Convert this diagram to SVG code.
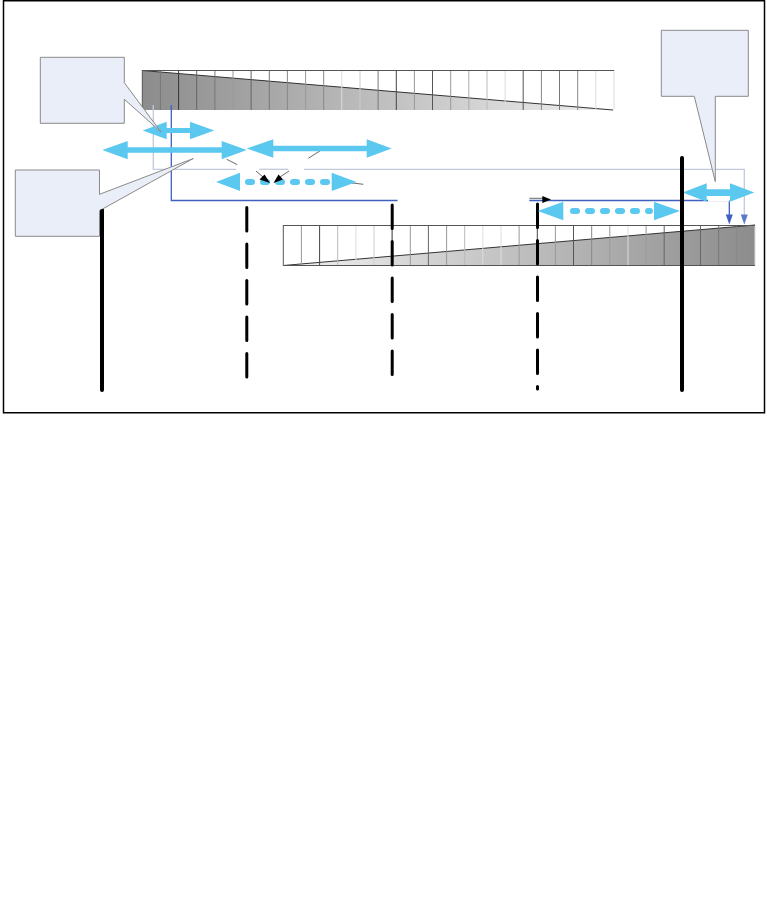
<svg xmlns="http://www.w3.org/2000/svg" width="767" height="921" viewBox="0 0 767 921">
<defs>
<style>
.frame{fill:#fff;stroke:#000;stroke-width:1.5}
.callout{fill:#eaeef8;stroke:#8a8a8a;stroke-width:1}
.blk{fill:none;stroke:#000;stroke-width:4;stroke-linecap:round}
.dash{fill:none;stroke:#000;stroke-width:3;stroke-linecap:round;stroke-dasharray:23.5 13}
.arr{fill:#5bc8f0}
.dots{fill:none;stroke:#5bc8f0;stroke-width:6;stroke-linecap:round;stroke-dasharray:4 11}
.blue{fill:none;stroke:#4060c0;stroke-width:1.3}
.light{fill:none;stroke:#c2c9da;stroke-width:1.3}
.thin{fill:none;stroke:#444;stroke-width:0.8}
</style>
<linearGradient id="gTop" x1="142" y1="0" x2="613" y2="0" gradientUnits="userSpaceOnUse">
<stop offset="0" stop-color="#8c8c8c"/><stop offset="1" stop-color="#f0f0f0"/>
</linearGradient>
<linearGradient id="gBot" x1="284" y1="0" x2="755" y2="0" gradientUnits="userSpaceOnUse">
<stop offset="0" stop-color="#f2f2f2"/><stop offset="1" stop-color="#8c8c8c"/>
</linearGradient>
</defs>
<rect class="frame" x="3.5" y="0.75" width="761" height="412"/>

<g id="bar-top">
<polygon points="142.3,70.5 613,110 142.3,110" fill="url(#gTop)"/>
<line x1="142.3" y1="70.5" x2="613" y2="110" stroke="#333" stroke-width="1"/>
<g stroke-width="1">
<line x1="142.3" y1="70" x2="142.3" y2="110" stroke="#555"/>
<line x1="160.4" y1="70" x2="160.4" y2="110" stroke="#777"/>
<line x1="178.6" y1="70" x2="178.6" y2="110" stroke="#333"/>
<line x1="196.7" y1="70" x2="196.7" y2="110" stroke="#666"/>
<line x1="214.9" y1="70" x2="214.9" y2="110" stroke="#777"/>
<line x1="233.0" y1="70" x2="233.0" y2="110" stroke="#999"/>
<line x1="251.1" y1="70" x2="251.1" y2="110" stroke="#666"/>
<line x1="269.3" y1="70" x2="269.3" y2="110" stroke="#777"/>
<line x1="287.4" y1="70" x2="287.4" y2="110" stroke="#888"/>
<line x1="305.6" y1="70" x2="305.6" y2="110" stroke="#999"/>
<line x1="323.7" y1="70" x2="323.7" y2="110" stroke="#888"/>
<line x1="341.8" y1="70" x2="341.8" y2="110" stroke="#ddd"/>
<line x1="360.0" y1="70" x2="360.0" y2="110" stroke="#ccc"/>
<line x1="378.1" y1="70" x2="378.1" y2="110" stroke="#777"/>
<line x1="396.3" y1="70" x2="396.3" y2="110" stroke="#444"/>
<line x1="414.4" y1="70" x2="414.4" y2="110" stroke="#999"/>
<line x1="432.5" y1="70" x2="432.5" y2="110" stroke="#555"/>
<line x1="450.7" y1="70" x2="450.7" y2="110" stroke="#999"/>
<line x1="468.8" y1="70" x2="468.8" y2="110" stroke="#aaa"/>
<line x1="487.0" y1="70" x2="487.0" y2="110" stroke="#bbb"/>
<line x1="505.1" y1="70" x2="505.1" y2="110" stroke="#ddd"/>
<line x1="523.2" y1="70" x2="523.2" y2="110" stroke="#555"/>
<line x1="541.4" y1="70" x2="541.4" y2="110" stroke="#888"/>
<line x1="559.5" y1="70" x2="559.5" y2="110" stroke="#777"/>
<line x1="577.7" y1="70" x2="577.7" y2="110" stroke="#888"/>
<line x1="595.8" y1="70" x2="595.8" y2="110" stroke="#ddd"/>
<line x1="614.0" y1="70" x2="614.0" y2="110" stroke="#ddd"/>
</g>
<line x1="142.3" y1="70.5" x2="614" y2="70.5" stroke="#555" stroke-width="1"/>
</g>

<g id="bar-bottom">
<polygon points="283.3,265.5 755,225 755,265.5" fill="url(#gBot)"/>
<line x1="283.3" y1="265.5" x2="755" y2="225" stroke="#333" stroke-width="1"/>
<g stroke-width="1">
<line x1="283.3" y1="225" x2="283.3" y2="265.5" stroke="#555"/>
<line x1="301.4" y1="225" x2="301.4" y2="265.5" stroke="#999"/>
<line x1="319.6" y1="225" x2="319.6" y2="265.5" stroke="#444"/>
<line x1="337.7" y1="225" x2="337.7" y2="265.5" stroke="#bbb"/>
<line x1="355.9" y1="225" x2="355.9" y2="265.5" stroke="#ddd"/>
<line x1="374.0" y1="225" x2="374.0" y2="265.5" stroke="#ccc"/>
<line x1="392.1" y1="225" x2="392.1" y2="265.5" stroke="#333"/>
<line x1="410.3" y1="225" x2="410.3" y2="265.5" stroke="#999"/>
<line x1="428.4" y1="225" x2="428.4" y2="265.5" stroke="#666"/>
<line x1="446.6" y1="225" x2="446.6" y2="265.5" stroke="#999"/>
<line x1="464.7" y1="225" x2="464.7" y2="265.5" stroke="#bbb"/>
<line x1="482.8" y1="225" x2="482.8" y2="265.5" stroke="#ddd"/>
<line x1="501.0" y1="225" x2="501.0" y2="265.5" stroke="#ddd"/>
<line x1="519.1" y1="225" x2="519.1" y2="265.5" stroke="#999"/>
<line x1="537.3" y1="225" x2="537.3" y2="265.5" stroke="#444"/>
<line x1="555.4" y1="225" x2="555.4" y2="265.5" stroke="#999"/>
<line x1="573.5" y1="225" x2="573.5" y2="265.5" stroke="#555"/>
<line x1="591.7" y1="225" x2="591.7" y2="265.5" stroke="#888"/>
<line x1="609.8" y1="225" x2="609.8" y2="265.5" stroke="#999"/>
<line x1="628.0" y1="225" x2="628.0" y2="265.5" stroke="#ddd"/>
<line x1="646.1" y1="225" x2="646.1" y2="265.5" stroke="#999"/>
<line x1="664.2" y1="225" x2="664.2" y2="265.5" stroke="#666"/>
<line x1="682.4" y1="225" x2="682.4" y2="265.5" stroke="#555"/>
<line x1="700.5" y1="225" x2="700.5" y2="265.5" stroke="#666"/>
<line x1="718.7" y1="225" x2="718.7" y2="265.5" stroke="#777"/>
<line x1="736.8" y1="225" x2="736.8" y2="265.5" stroke="#888"/>
<line x1="755.0" y1="225" x2="755.0" y2="265.5" stroke="#ddd"/>
</g>
<line x1="283.3" y1="225.5" x2="755" y2="225.5" stroke="#555" stroke-width="1"/>
<line x1="283.3" y1="265.5" x2="755" y2="265.5" stroke="#555" stroke-width="1"/>
</g>

<g id="connectors">
<path class="light" d="M153.3,105 V169.3 H236"/>
<path class="light" d="M259.3,169.3 H288.3"/>
<path class="light" d="M304,169.3 H744.3 V215"/>
<polygon points="740.8,214.5 747.8,214.5 744.3,224.5" fill="#5a78cc"/>
<path class="blue" d="M171.3,105 V200.5 H397.5"/>
<path class="blue" d="M529.3,200.5 H729.3 V215"/>
<polygon points="725.8,214.5 732.8,214.5 729.3,224.5" fill="#4060c0"/>
<line class="thin" x1="529.3" y1="198.3" x2="543" y2="198.3" stroke="#777"/>
<polygon points="542.3,196 551,199.4 542.3,203" fill="#000"/>
<line class="thin" x1="226.7" y1="159.3" x2="237.3" y2="164.7"/>
<line class="thin" x1="308.3" y1="158.3" x2="324" y2="148.3"/>
<line class="thin" x1="341.7" y1="181.7" x2="363.3" y2="184.3"/>
</g>

<g id="posts">
<line class="blk" x1="102" y1="210" x2="102" y2="390"/>
<line class="dash" x1="246.8" y1="207.5" x2="246.8" y2="377"/>
<line class="dash" x1="392.2" y1="205" x2="392.2" y2="375"/>
<line class="dash" x1="537.5" y1="204" x2="537.5" y2="389"/>
</g>

<g id="arrows">
<polygon class="arr" points="142.7,130.5 166.7,121.7 166.7,128 190,128 190,121.7 214.3,130.5 190,139.3 190,133 166.7,133 166.7,139.3"/>
<polygon class="arr" points="102.3,150 127.7,141 127.7,147.3 221.7,147.3 221.7,141 246.7,150 221.7,159.3 221.7,152.7 127.7,152.7 127.7,159.3"/>
<polygon class="arr" points="246.7,148.5 273.3,139.3 273.3,145.8 366.7,145.8 366.7,139.3 391.7,148.5 366.7,157.7 366.7,151.2 273.3,151.2 273.3,157.7"/>
<polygon class="arr" points="216,182 240,172.7 240,191"/>
<polygon class="arr" points="356.5,182 331.7,172.7 331.7,191"/>
<line class="dots" x1="248" y1="182" x2="330" y2="182"/>
<polygon class="arr" points="537.7,211 563.3,201.7 563.3,220.3"/>
<polygon class="arr" points="680,211 654,201.7 654,220.3"/>
<line class="dots" x1="573" y1="211" x2="650" y2="211"/>
<polygon class="arr" points="682.7,192.5 706.7,183.3 706.7,189.3 730,189.3 730,183.3 754.3,192.5 730,201.7 730,195.9 706.7,195.9 706.7,201.7"/>
<rect x="708" y="196.6" width="21.5" height="5" fill="#fff"/>
</g>

<g id="arrowheads-small">
<line class="thin" x1="256" y1="171" x2="263" y2="177"/>
<polygon points="259.5,179.5 264.5,174.5 270,183" fill="#000"/>
<line class="thin" x1="289" y1="171" x2="280" y2="177"/>
<polygon points="278.5,174.5 283,179.5 273.5,183" fill="#000"/>
</g>

<line class="blk" x1="682" y1="158" x2="682" y2="390"/>

<g id="callout-top-left">
<polygon class="callout" points="40.3,57.3 124.3,57.3 124.3,82.7 161,132 124.3,99.3 124.3,123.3 40.3,123.3"/>
</g>
<g id="callout-left">
<polygon class="callout" points="15.3,170 99.5,170 99.5,194.3 193.3,158.5 99.5,210.7 99.5,236.3 15.3,236.3"/>
<line class="blk" x1="102" y1="211" x2="102" y2="236"/>
</g>
<g id="callout-right">
<polygon class="callout" points="661.3,30.3 748.3,30.3 748.3,96.3 715.3,96.3 715.3,181.7 694.3,96.3 661.3,96.3"/>
</g>
</svg>
